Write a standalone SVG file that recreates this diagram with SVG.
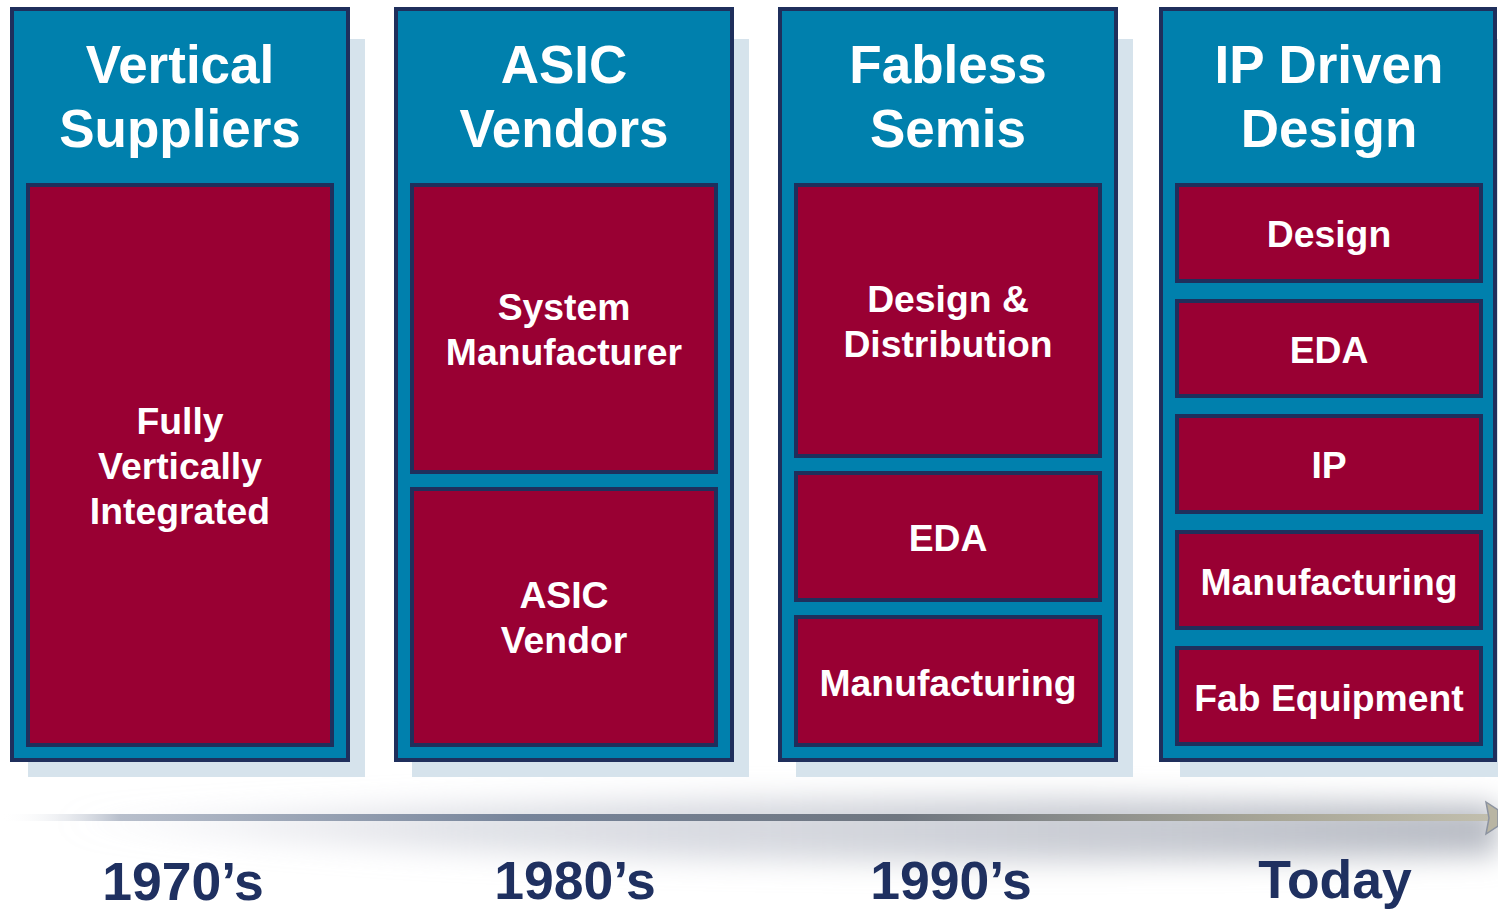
<svg xmlns="http://www.w3.org/2000/svg" width="1498" height="910" viewBox="0 0 1498 910">
<defs>
<style>
.shadow{fill:#d6e3ec}
.col{fill:#0080ad;stroke:#1f2f5c;stroke-width:4}
.box{fill:#990033;stroke:#1f2f5c;stroke-width:4}
.hd{font-family:"Liberation Sans",Arial,sans-serif;font-weight:bold;font-size:53px;fill:#ffffff;text-anchor:middle}
.bt{font-family:"Liberation Sans",Arial,sans-serif;font-weight:bold;font-size:37.3px;fill:#ffffff;text-anchor:middle}
.yr{font-family:"Liberation Sans",Arial,sans-serif;font-weight:bold;font-size:53.5px;fill:#1f3060;text-anchor:middle}
</style>
<linearGradient id="lineGrad" x1="0" y1="0" x2="1498" y2="0" gradientUnits="userSpaceOnUse">
<stop offset="0" stop-color="#ffffff" stop-opacity="0"/>
<stop offset="0.08" stop-color="#b8bfcc"/>
<stop offset="0.35" stop-color="#76849a"/>
<stop offset="0.6" stop-color="#6f7680"/>
<stop offset="0.85" stop-color="#a8a697"/>
<stop offset="1" stop-color="#c2bfae"/>
</linearGradient>
<linearGradient id="glowGrad" x1="0" y1="0" x2="1498" y2="0" gradientUnits="userSpaceOnUse">
<stop offset="0" stop-color="#c9ccd6" stop-opacity="0"/>
<stop offset="0.3" stop-color="#c9ccd6" stop-opacity="0.55"/>
<stop offset="1" stop-color="#b4b8c1" stop-opacity="0.95"/>
</linearGradient>
<filter id="blur" x="-10%" y="-100%" width="120%" height="300%">
<feGaussianBlur stdDeviation="14"/>
</filter>
</defs>
<rect width="1498" height="910" fill="#ffffff"/>

<g id="timeline">
<path d="M60,822 C400,800 900,790 1498,805 L1498,855 C900,870 400,860 60,822 Z" fill="url(#glowGrad)" filter="url(#blur)"/>
<rect x="0" y="814" width="1490" height="7" fill="url(#lineGrad)"/>
<path d="M1486,802 L1498,810 L1498,826 L1486,834 L1489,818 Z" fill="#b9b5a3" stroke="#8c93a0" stroke-width="1.5"/>
</g>

<g id="col-vertical-suppliers">
<rect class="shadow" x="28" y="39" width="337" height="738"/>
<rect class="col" x="12" y="9" width="336" height="751"/>
<text class="hd" x="180" y="83">Vertical</text>
<text class="hd" x="180" y="147">Suppliers</text>
</g>
<g id="box-fully-integrated">
<rect class="box" x="28" y="185" width="304" height="560"/>
<text class="bt" x="180" y="434">Fully</text>
<text class="bt" x="180" y="479">Vertically</text>
<text class="bt" x="180" y="524">Integrated</text>
</g>

<g id="col-asic-vendors">
<rect class="shadow" x="412" y="39" width="337" height="738"/>
<rect class="col" x="396" y="9" width="336" height="751"/>
<text class="hd" x="564" y="83">ASIC</text>
<text class="hd" x="564" y="147">Vendors</text>
</g>
<g id="box-system-manufacturer">
<rect class="box" x="412" y="185" width="304" height="287"/>
<text class="bt" x="564" y="320">System</text>
<text class="bt" x="564" y="365">Manufacturer</text>
</g>
<g id="box-asic-vendor">
<rect class="box" x="412" y="489" width="304" height="256"/>
<text class="bt" x="564" y="608">ASIC</text>
<text class="bt" x="564" y="653">Vendor</text>
</g>

<g id="col-fabless-semis">
<rect class="shadow" x="796" y="39" width="337" height="738"/>
<rect class="col" x="780" y="9" width="336" height="751"/>
<text class="hd" x="948" y="83">Fabless</text>
<text class="hd" x="948" y="147">Semis</text>
</g>
<g id="box-design-distribution">
<rect class="box" x="796" y="185" width="304" height="271"/>
<text class="bt" x="948" y="312">Design &amp;</text>
<text class="bt" x="948" y="357">Distribution</text>
</g>
<g id="box-eda-90s">
<rect class="box" x="796" y="473" width="304" height="127"/>
<text class="bt" x="948" y="551">EDA</text>
</g>
<g id="box-manufacturing-90s">
<rect class="box" x="796" y="617" width="304" height="128"/>
<text class="bt" x="948" y="696">Manufacturing</text>
</g>

<g id="col-ip-driven-design">
<rect class="shadow" x="1180" y="39" width="330" height="738"/>
<rect class="col" x="1161" y="9" width="334" height="751"/>
<text class="hd" x="1329" y="83">IP Driven</text>
<text class="hd" x="1329" y="147">Design</text>
</g>
<g id="box-design">
<rect class="box" x="1177" y="185" width="304" height="96"/>
<text class="bt" x="1329" y="247">Design</text>
</g>
<g id="box-eda">
<rect class="box" x="1177" y="301" width="304" height="95"/>
<text class="bt" x="1329" y="363">EDA</text>
</g>
<g id="box-ip">
<rect class="box" x="1177" y="416" width="304" height="96"/>
<text class="bt" x="1329" y="478">IP</text>
</g>
<g id="box-manufacturing">
<rect class="box" x="1177" y="532" width="304" height="96"/>
<text class="bt" x="1329" y="595">Manufacturing</text>
</g>
<g id="box-fab-equipment">
<rect class="box" x="1177" y="648" width="304" height="96"/>
<text class="bt" x="1329" y="711">Fab Equipment</text>
</g>

<g id="year-labels">
<text class="yr" x="183" y="900">1970’s</text>
<text class="yr" x="575" y="899">1980’s</text>
<text class="yr" x="951" y="899">1990’s</text>
<text class="yr" x="1335" y="898">Today</text>
</g>
</svg>
